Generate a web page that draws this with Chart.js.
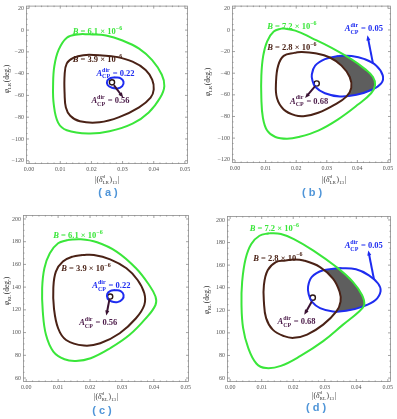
<!doctype html>
<html>
<head>
<script src="https://cdn.jsdelivr.net/npm/chart.js@4.4.0/dist/chart.umd.min.js"></script>
<style>
  body { margin: 0; background: #fff; }
  #wrap { position: relative; width: 397px; height: 419px; }
  canvas { position: absolute; }
</style>
</head>
<body>
<div id="wrap">
  <canvas id="pa" style="left:0;top:0" width="198" height="205"></canvas>
  <canvas id="pb" style="left:198px;top:0" width="199" height="205"></canvas>
  <canvas id="pc" style="left:0;top:205px" width="198" height="214"></canvas>
  <canvas id="pd" style="left:198px;top:205px" width="199" height="214"></canvas>
</div>
<script>
const X_TICKS = [0, 0.01, 0.02, 0.03, 0.04, 0.05];
const Y_TICKS_LR = [-120, -100, -80, -60, -40, -20, 0, 20];
const Y_TICKS_RL = [60, 80, 100, 120, 140, 160, 180, 200];

// (a) phi_LR, B = 6.1e-6 / 3.9e-6, A_CP = 0.22 / 0.56
const aGreen = [[0.0195,-3.8],[0.0247,-5],[0.030,-9.6],[0.0353,-17],[0.0395,-27.6],[0.0426,-41],[0.0434,-51.5],[0.0421,-62],[0.0384,-75.7],[0.0332,-86],[0.0258,-93],[0.019,-95],[0.0121,-92],[0.0093,-85],[0.0079,-68],[0.0077,-50],[0.0081,-33],[0.0095,-18],[0.0121,-7],[0.0155,-4],[0.0195,-3.8]];
const aBrown = [[0.0226,-23],[0.0279,-24.6],[0.0332,-29],[0.0374,-36.6],[0.0395,-45.6],[0.040,-54.6],[0.039,-62],[0.0353,-71],[0.0289,-80],[0.0226,-84.7],[0.0163,-83.8],[0.0132,-78.7],[0.0118,-71],[0.0114,-59],[0.0114,-41],[0.0121,-30.6],[0.0142,-25.5],[0.0174,-23],[0.0226,-23]];
const aBlue = [[0.0277,-43.4],[0.0294,-44.4],[0.0303,-47.5],[0.0299,-51.5],[0.0284,-53.6],[0.0266,-53],[0.0252,-50.5],[0.0251,-46.5],[0.0262,-44],[0.0277,-43.4]];
const aDot = [0.0266, -48];
const aValues = ['6.1', '3.9', '0.22', '0.56'];

// (b) phi_LR, B = 7.2e-6 / 2.8e-6, A_CP = 0.05 / 0.68
const bGreen = [[0.01535,1.5],[0.0197,-0.6],[0.0251,-7.5],[0.0316,-16.5],[0.038,-27],[0.0424,-36],[0.0451,-43.5],[0.0458,-51],[0.0445,-58.5],[0.0402,-69],[0.0337,-82.6],[0.0272,-93],[0.0208,-99],[0.017,-100.6],[0.0132,-99],[0.0105,-93],[0.0091,-81],[0.0086,-63],[0.0086,-42],[0.0092,-24],[0.0105,-10.5],[0.01265,-1.5],[0.01535,1.5]];
const bBrown = [[0.0197,-21],[0.0218,-20.4],[0.0262,-21.6],[0.031,-25.5],[0.0348,-33],[0.0375,-43.5],[0.038,-53.5],[0.0364,-61.6],[0.0326,-69],[0.0272,-76.6],[0.0229,-79.6],[0.0197,-79],[0.0159,-73.5],[0.0137,-63],[0.0134,-48],[0.0141,-33],[0.0159,-24],[0.0197,-21]];
const bBlue = [[0.0337,-24],[0.0381,-24],[0.0424,-27],[0.0462,-33],[0.0483,-42],[0.0478,-49.5],[0.0445,-55.5],[0.0397,-60],[0.0343,-61.5],[0.0294,-58.5],[0.0262,-52.5],[0.0253,-46.5],[0.0251,-41.4],[0.0262,-33],[0.0294,-27],[0.0337,-24]];
const bDot = [0.0267, -49.5];
const bValues = ['7.2', '2.8', '0.05', '0.68'];

// (c) phi_RL, B = 6.1e-6 / 3.9e-6, A_CP = 0.22 / 0.56
const cGreen = [[0.013,181.5],[0.0171,182.1],[0.0222,179.5],[0.0283,171.3],[0.0344,156.6],[0.0385,141.9],[0.0405,131.7],[0.0405,124.3],[0.0375,112.6],[0.0324,98],[0.0263,86.2],[0.0202,77.4],[0.0156,75],[0.012,76.5],[0.0085,83.3],[0.0062,98],[0.0052,118.5],[0.005,139],[0.0057,156.6],[0.0074,169.8],[0.01,178.6],[0.013,181.5]];
const cBrown = [[0.0176,168.3],[0.0212,168.3],[0.0263,164.5],[0.0314,156.6],[0.0349,146.3],[0.037,134.6],[0.037,124.3],[0.0344,112.6],[0.0293,99.4],[0.0232,90.6],[0.0181,88.6],[0.0125,93.5],[0.01,103.8],[0.0087,121.4],[0.0085,139],[0.0093,153.7],[0.0115,162.5],[0.0146,166.9],[0.0176,168.3]];
const cBlue = [[0.0279,137.5],[0.0296,136.5],[0.0305,133.2],[0.0301,129.2],[0.0286,126.8],[0.0268,127.3],[0.0255,129.8],[0.0254,134],[0.0264,136.7],[0.0279,137.5]];
const cDot = [0.0263, 131.7];
const cValues = ['6.1', '3.9', '0.22', '0.56'];

// (d) phi_RL, B = 7.2e-6 / 2.8e-6, A_CP = 0.05 / 0.68
const dGreen = [[0.0124,188.3],[0.0161,187.5],[0.0202,183.1],[0.0264,172.9],[0.0337,158.3],[0.0389,145.2],[0.0418,133.5],[0.0425,124.8],[0.0409,119],[0.0358,107.3],[0.0295,92.7],[0.0223,79.6],[0.0161,70.8],[0.0114,68.8],[0.0083,72.9],[0.0057,86.9],[0.0041,104.4],[0.0036,124.8],[0.0038,145.2],[0.0049,165.6],[0.0067,178.7],[0.0093,186],[0.0124,188.3]];
const dBrown = [[0.0176,164.1],[0.0202,165],[0.0233,164.1],[0.0285,158.3],[0.0326,148.1],[0.0347,136.4],[0.035,127.7],[0.0337,119],[0.0295,107.3],[0.0244,98.5],[0.0202,95.6],[0.0171,97.1],[0.0135,102.9],[0.0114,113.1],[0.0107,127.7],[0.0107,142.3],[0.0119,155.4],[0.0145,162.7],[0.0176,164.1]];
const dBlue = [[0.0347,157.4],[0.0399,156.3],[0.044,151],[0.0469,143.7],[0.0477,137],[0.0461,129.2],[0.042,123.3],[0.0368,119.5],[0.0326,119],[0.0285,121.9],[0.0259,127.7],[0.0249,134.1],[0.0247,140.8],[0.0259,149.6],[0.0295,155.4],[0.0347,157.4]];
const dDot = [0.0262, 131.2];
const dValues = ['7.2', '2.8', '0.05', '0.68'];

const GREEN = '#3ae63a', BROWN = '#4a2216', BLUE = '#1e2cf0', PURPLE = '#4b1a48', SHADE = '#5e5e5e', CAPTION = '#4f95d8';
const SERIF = '"Liberation Serif", "Times New Roman", serif';

function pts(a) {
    return a.map(function (p) { return {x: p[0], y: p[1]}; });
}

function curve(data, color) {
    return {data: pts(data), showLine: true, borderColor: color, borderWidth: 2,
        pointRadius: 0, tension: 0.4, fill: false};
}

function bText(v) { return [{t: 'B', it: true}, ' = ' + v + ' × 10', {sup: '−6'}]; }
function aText(v) { return [{t: 'A', it: true}, {sup: 'dir', sub: 'CP'}, ' = ' + v]; }

// draws text made of pieces, some with stacked super/subscripts
function rich(ctx, parts, x, y, o, draw) {
    const w = o.bold ? 'bold ' : '';
    const fam = o.family || SERIF;
    const s = o.size, ss = Math.round(o.size * 0.68);
    let cx = x;
    ctx.textBaseline = 'middle';
    ctx.textAlign = 'left';
    ctx.fillStyle = o.color;
    for (let p of parts) {
        if (typeof p === 'string') p = {t: p};
        if (p.t !== undefined) {
            ctx.font = (p.it ? 'italic ' : '') + w + s + 'px ' + fam;
            if (draw) ctx.fillText(p.t, cx, y);
            cx += ctx.measureText(p.t).width;
        } else {
            ctx.font = w + ss + 'px ' + fam;
            let adv = 0;
            if (p.sup) {
                if (draw) ctx.fillText(p.sup, cx, y - s * 0.42);
                adv = ctx.measureText(p.sup).width;
            }
            if (p.sub) {
                if (draw) ctx.fillText(p.sub, cx, y + s * 0.38);
                adv = Math.max(adv, ctx.measureText(p.sub).width);
            }
            cx += adv + 0.5;
        }
    }
    return cx - x;
}

function richCentered(ctx, parts, x, y, o) {
    const w = rich(ctx, parts, 0, 0, o, false);
    rich(ctx, parts, x - w / 2, y, o, true);
}

function arrow(ctx, x1, y1, x2, y2, color) {
    const a = Math.atan2(y2 - y1, x2 - x1), h = 5.5;
    ctx.strokeStyle = color;
    ctx.fillStyle = color;
    ctx.lineWidth = 2;
    ctx.beginPath();
    ctx.moveTo(x1, y1);
    ctx.lineTo(x2 - Math.cos(a) * h * 0.7, y2 - Math.sin(a) * h * 0.7);
    ctx.stroke();
    ctx.beginPath();
    ctx.moveTo(x2, y2);
    ctx.lineTo(x2 - h * Math.cos(a - 0.38), y2 - h * Math.sin(a - 0.38));
    ctx.lineTo(x2 - h * Math.cos(a + 0.38), y2 - h * Math.sin(a + 0.38));
    ctx.closePath();
    ctx.fill();
}

function linePath(chart, i) {
    const el = chart.getDatasetMeta(i).dataset;
    if (el.updateControlPoints) el.updateControlPoints(chart.chartArea, 'x');
    el.path(chart.ctx);
}

function decor(o) {
    return {
        id: 'decor',
        beforeDatasetsDraw: function (chart) {
            if (!o.shade) return;
            const ctx = chart.ctx, ca = chart.chartArea;
            ctx.save();
            // inside blue and green, outside brown
            ctx.beginPath(); linePath(chart, 2); ctx.closePath(); ctx.clip();
            ctx.beginPath(); linePath(chart, 0); ctx.closePath(); ctx.clip();
            ctx.beginPath();
            ctx.rect(ca.left, ca.top, ca.right - ca.left, ca.bottom - ca.top);
            linePath(chart, 1);
            ctx.closePath();
            ctx.fillStyle = SHADE;
            ctx.fill('evenodd');
            ctx.restore();
        },
        afterDraw: function (chart) {
            const ctx = chart.ctx, ca = chart.chartArea;
            const xs = chart.scales.x, ys = chart.scales.y;
            ctx.save();
            // frame with inward ticks
            ctx.strokeStyle = '#8c8c8c';
            ctx.lineWidth = 0.8;
            ctx.strokeRect(ca.left + 0.5, ca.top + 0.5, ca.right - ca.left - 1, ca.bottom - ca.top - 1);
            ctx.beginPath();
            for (let v = 0; v <= 0.0501; v += 0.002) {
                const px = xs.getPixelForValue(v);
                const len = Math.abs(v / 0.01 - Math.round(v / 0.01)) < 1e-6 ? 3 : 1.5;
                ctx.moveTo(px, ca.bottom); ctx.lineTo(px, ca.bottom - len);
                ctx.moveTo(px, ca.top); ctx.lineTo(px, ca.top + len);
            }
            const yt = o.yTicks;
            for (let v = yt[0]; v <= yt[yt.length - 1]; v += 5) {
                const py = ys.getPixelForValue(v);
                const len = (v - yt[0]) % 20 === 0 ? 3 : 1.5;
                ctx.moveTo(ca.left, py); ctx.lineTo(ca.left + len, py);
                ctx.moveTo(ca.right, py); ctx.lineTo(ca.right - len, py);
            }
            ctx.stroke();

            o.arrows.forEach(function (a) {
                arrow(ctx, xs.getPixelForValue(a.from[0]), ys.getPixelForValue(a.from[1]),
                    xs.getPixelForValue(a.to[0]), ys.getPixelForValue(a.to[1]), a.color);
            });
            o.labels.forEach(function (l) {
                rich(ctx, l.parts, xs.getPixelForValue(l.at[0]), ys.getPixelForValue(l.at[1]),
                    {size: 8.5, bold: true, color: l.color}, true);
            });

            // axis titles and caption
            const phi = [{t: 'φ', it: true}, {sub: o.sub}, '(deg.)'];
            const delta = ['|(', {t: 'δ', it: true}, {sup: 'd', sub: o.sub}, ')', {sub: '13'}, '|'];
            ctx.save();
            ctx.translate(o.yTitle[0], o.yTitle[1]);
            ctx.rotate(-Math.PI / 2);
            richCentered(ctx, phi, 0, 0, {size: 7.5, color: '#333'});
            ctx.restore();
            richCentered(ctx, delta, o.xTitle[0], o.xTitle[1], {size: 7.5, color: '#333'});
            richCentered(ctx, [o.caption], o.capPos[0], o.capPos[1],
                {size: 11, bold: true, color: CAPTION, family: '"Liberation Sans", Arial, sans-serif'});
            ctx.restore();
        }
    };
}

function makePanel(id, o) {
    const datasets = [
        curve(o.green, GREEN),
        curve(o.brown, BROWN),
        curve(o.blue, BLUE),
        {data: pts([o.dot]), showLine: false, pointRadius: 2.6, pointBorderWidth: 1.4,
            pointBorderColor: '#2a1410', pointBackgroundColor: 'rgba(0,0,0,0)'}
    ];
    const tickFont = {family: SERIF, size: 6};
    return new Chart(document.getElementById(id), {
        type: 'scatter',
        data: {datasets: datasets},
        options: {
            responsive: false,
            animation: false,
            events: [],
            layout: {padding: o.pad},
            plugins: {legend: {display: false}, tooltip: {enabled: false}},
            scales: {
                x: {
                    type: 'linear', min: -0.001, max: 0.051,
                    grid: {display: false, drawTicks: false}, border: {display: false},
                    afterBuildTicks: function (s) { s.ticks = X_TICKS.map(function (v) { return {value: v}; }); },
                    afterFit: function (s) { s.height = 10; },
                    ticks: {padding: 2, font: tickFont, color: '#555', maxRotation: 0, autoSkip: false,
                        callback: function (v) { return v.toFixed(2); }}
                },
                y: {
                    type: 'linear', min: o.yMin, max: o.yMax,
                    grid: {display: false, drawTicks: false}, border: {display: false},
                    afterBuildTicks: function (s) { s.ticks = o.yTicks.map(function (v) { return {value: v}; }); },
                    afterFit: function (s) { s.width = o.yWidth; },
                    ticks: {padding: 2, font: tickFont, color: '#555', autoSkip: false,
                        callback: function (v) { return v < 0 ? '−' + (-v) : String(v); }}
                }
            }
        },
        plugins: [decor(o)]
    });
}

makePanel('pa', {
    green: aGreen, brown: aBrown, blue: aBlue, dot: aDot, shade: false,
    yMin: -123, yMax: 22.5, yTicks: Y_TICKS_LR, yWidth: 26, sub: 'LR',
    pad: {top: 3, right: 10, bottom: 31, left: 0},
    labels: [
        {at: [0.0140, -1.5], parts: bText(aValues[0]), color: GREEN},
        {at: [0.0140, -27.5], parts: bText(aValues[1]), color: BROWN},
        {at: [0.0216, -40], parts: aText(aValues[2]), color: BLUE},
        {at: [0.0200, -65], parts: aText(aValues[3]), color: PURPLE}
    ],
    arrows: [{from: [0.0272, -50.5], to: [0.0302, -62], color: '#3a1232'}],
    yTitle: [7, 79], xTitle: [107, 180], caption: '( a )', capPos: [108, 193]
});

makePanel('pb', {
    green: bGreen, brown: bBrown, blue: bBlue, dot: bDot, shade: true,
    yMin: -123, yMax: 22.5, yTicks: Y_TICKS_LR, yWidth: 34, sub: 'LR',
    pad: {top: 2, right: 6, bottom: 32, left: 0},
    labels: [
        {at: [0.0105, 3], parts: bText(bValues[0]), color: GREEN},
        {at: [0.0105, -16.5], parts: bText(bValues[1]), color: BROWN},
        {at: [0.0359, 0.6], parts: aText(bValues[2]), color: BLUE},
        {at: [0.0180, -66], parts: aText(bValues[3]), color: PURPLE}
    ],
    arrows: [
        {from: [0.0262, -52], to: [0.0229, -63], color: '#3a1232'},
        {from: [0.0451, -31], to: [0.0433, -5], color: BLUE}
    ],
    yTitle: [10, 82], xTitle: [136, 180], caption: '( b )', capPos: [114, 193]
});

makePanel('pc', {
    green: cGreen, brown: cBrown, blue: cBlue, dot: cDot, shade: false,
    yMin: 56.5, yMax: 203.5, yTicks: Y_TICKS_RL, yWidth: 23, sub: 'RL',
    pad: {top: 10, right: 9, bottom: 27, left: 0},
    labels: [
        {at: [0.0085, 185], parts: bText(cValues[0]), color: GREEN},
        {at: [0.0110, 156], parts: bText(cValues[1]), color: BROWN},
        {at: [0.0207, 141], parts: aText(cValues[2]), color: BLUE},
        {at: [0.0166, 108.2], parts: aText(cValues[3]), color: PURPLE}
    ],
    arrows: [{from: [0.0261, 129.5], to: [0.0251, 115], color: '#3a1232'}],
    yTitle: [7, 86], xTitle: [106, 192], caption: '( c )', capPos: [102, 206]
});

makePanel('pd', {
    green: dGreen, brown: dBrown, blue: dBlue, dot: dDot, shade: true,
    yMin: 56.5, yMax: 203.5, yTicks: Y_TICKS_RL, yWidth: 29, sub: 'RL',
    pad: {top: 11, right: 6, bottom: 27, left: 0},
    labels: [
        {at: [0.0062, 192.4], parts: bText(dValues[0]), color: GREEN},
        {at: [0.0073, 166], parts: bText(dValues[1]), color: BROWN},
        {at: [0.0363, 176.7], parts: aText(dValues[2]), color: BLUE},
        {at: [0.0150, 109.6], parts: aText(dValues[3]), color: PURPLE}
    ],
    arrows: [
        {from: [0.0259, 127.7], to: [0.0235, 116], color: '#3a1232'},
        {from: [0.0456, 147.5], to: [0.0438, 173], color: BLUE}
    ],
    yTitle: [9, 95], xTitle: [126, 191], caption: '( d )', capPos: [118, 203]
});
</script>
</body>
</html>
